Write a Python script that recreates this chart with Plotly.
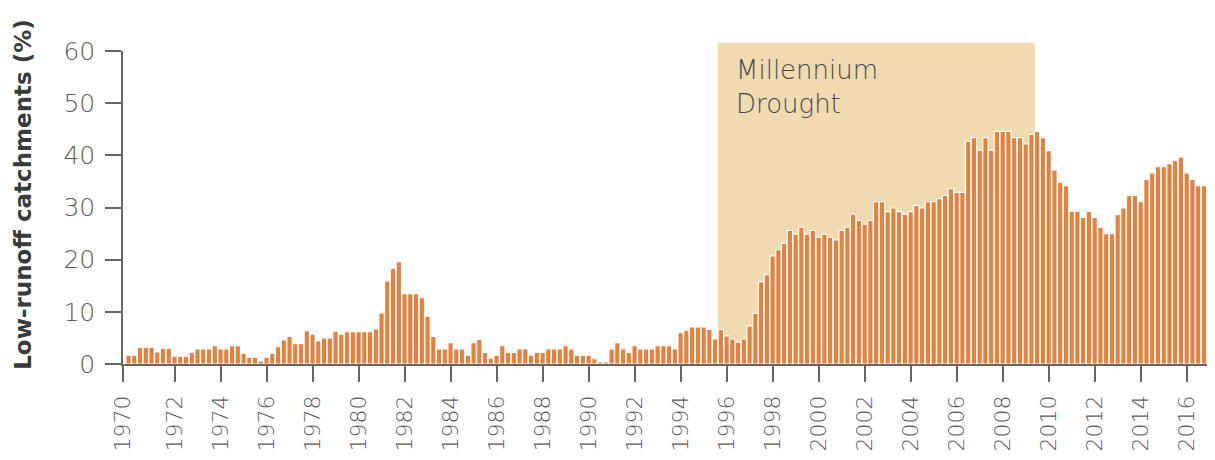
import plotly.graph_objects as go

# Quarterly share of low-runoff catchments (%), starting 1970 Q1
start_year = 1970
values = [
    1.7, 1.7, 3.2, 3.2, 3.2, 2.3, 3.0, 3.0, 1.5, 1.5,
    1.5, 2.2, 2.9, 2.9, 2.9, 3.5, 2.9, 2.9, 3.5, 3.5,
    2.0, 1.3, 1.3, 0.6, 1.3, 2.0, 3.3, 4.6, 5.3, 3.9,
    3.9, 6.4, 5.7, 4.4, 5.0, 5.0, 6.3, 5.7, 6.2, 6.2,
    6.2, 6.2, 6.2, 6.7, 9.8, 15.9, 18.3, 19.6, 13.5, 13.5,
    13.5, 12.7, 9.1, 5.3, 2.9, 2.9, 4.1, 2.9, 2.9, 1.7,
    4.1, 4.7, 2.2, 1.1, 1.7, 3.5, 2.2, 2.2, 2.9, 2.9,
    1.7, 2.2, 2.2, 2.9, 2.9, 2.9, 3.5, 2.9, 1.7, 1.7,
    1.7, 1.0, 0.4, 0.4, 2.9, 4.1, 2.9, 2.2, 3.5, 2.9,
    2.9, 2.9, 3.5, 3.5, 3.5, 2.9, 6.0, 6.5, 7.1, 7.1,
    7.1, 6.6, 4.8, 6.6, 5.4, 4.8, 4.2, 4.8, 7.3, 9.7,
    15.8, 17.1, 20.7, 21.9, 23.1, 25.6, 24.9, 26.2, 24.9, 25.6,
    24.3, 24.9, 24.3, 23.8, 25.6, 26.2, 28.7, 27.5, 26.8, 27.5,
    31.1, 31.1, 29.2, 29.9, 29.2, 28.7, 29.2, 30.4, 29.9, 31.1,
    31.1, 31.7, 32.3, 33.6, 32.9, 32.9, 42.7, 43.4, 41.0, 43.4,
    41.0, 44.6, 44.6, 44.6, 43.4, 43.4, 42.2, 44.0, 44.6, 43.4,
    40.9, 37.2, 34.8, 34.2, 29.3, 29.3, 28.1, 29.3, 28.1, 26.2,
    25.0, 25.0, 28.6, 29.9, 32.3, 32.3, 31.1, 35.4, 36.6, 37.8,
    37.8, 38.4, 39.0, 39.7, 36.6, 35.4, 34.2, 34.2, 34.2, 34.2,
]
quarters = [start_year + i / 4 for i in range(len(values))]

tick_years = list(range(1970, 2017, 2))
tick_labels = [str(y) for y in tick_years]

drought_start = 1995.625
drought_end = 2009.4
drought_label = "Millennium<br>Drought"

x_range = [1969.76, 2017.23]
y_range = [0, 60]

BAR = "#E5813E"
SHADE = "#F0DAB0"
AX = "#666666"
LABEL = "#5c5c5c"
FONT = "'DejaVu Sans', sans-serif"

tickvals = [x_range[0]] + tick_years[1:]

fig = go.Figure()
fig.add_trace(go.Bar(
    x=quarters, y=values,
    marker=dict(color=BAR, line=dict(color="white", width=1.1)),
    hoverinfo="x+y",
))

fig.add_shape(type="rect", xref="x", yref="paper",
              x0=drought_start, x1=drought_end, y0=0, y1=1.0265,
              fillcolor=SHADE, line=dict(width=0), layer="below")

fig.add_annotation(xref="x", yref="paper", x=drought_start, y=1.0,
                   xshift=16, yshift=-2,
                   text=drought_label, showarrow=False, align="left",
                   xanchor="left", yanchor="top",
                   font=dict(family=FONT, size=26, color="#4a4a4a", weight=200))

fig.add_annotation(xref="paper", yref="paper", x=-0.0916, y=0.5436,
                   text="<b>Low-runoff catchments (%)</b>", showarrow=False,
                   textangle=-90, xanchor="center", yanchor="middle",
                   font=dict(family="'DejaVu Sans', sans-serif", size=23, color="#3a3a3a"))

# page body adds an 8px offset; size the figure so the plot area lands in place
fig.update_layout(
    width=1207, height=452,
    margin=dict(l=115, r=0, t=43, b=96, autoexpand=False),
    plot_bgcolor="white", paper_bgcolor="white",
    bargap=0.08,
    showlegend=False,
    font=dict(family=FONT, color=AX),
)
fig.update_xaxes(
    automargin=False,
    range=x_range, tickmode="array", tickvals=tickvals, ticktext=tick_labels,
    tickangle=-90, ticks="outside", ticklen=16, tickwidth=1.5, tickcolor=AX,
    showline=True, linecolor=AX, linewidth=1.5, showgrid=False, zeroline=False,
    tickfont=dict(family=FONT, size=22, color=LABEL, weight=200), ticklabelstandoff=5,
)
fig.update_yaxes(
    automargin=False,
    range=y_range, tickmode="linear", tick0=0, dtick=10,
    ticks="outside", ticklen=16, tickwidth=1.5, tickcolor=AX,
    showline=True, linecolor=AX, linewidth=1.5, showgrid=False, zeroline=False,
    tickfont=dict(family=FONT, size=25, color=LABEL, weight=200), ticklabelstandoff=5,
)

fig.write_html("out.html")
